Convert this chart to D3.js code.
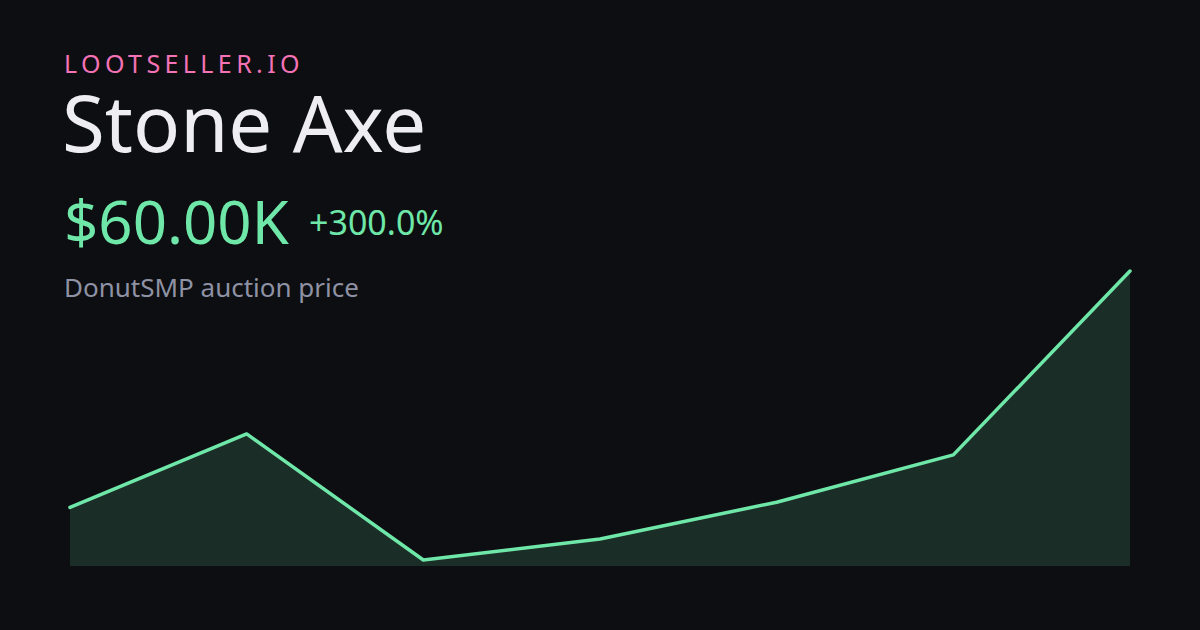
<!DOCTYPE html>
<html><head><meta charset="utf-8">
<script src="https://cdn.jsdelivr.net/npm/d3@7"></script>
<style>html,body{margin:0;padding:0;background:#0d0e11;}svg{display:block;}</style>
</head><body>
<svg id="c" width="1200" height="630"></svg>
<script>
const brand = "LOOTSELLER.IO";
const itemName = "Stone Axe";
const priceLabel = "$60.00K";
const changeLabel = "+300.0%";
const subtitle = "DonutSMP auction price";
const periods = [0, 1, 2, 3, 4, 5, 6];
const prices = [15000, 29000, 5000, 9000, 16000, 25000, 60000];

const svg = d3.select("#c");
const W = 1200, H = 630;
svg.append("rect").attr("width", W).attr("height", H).attr("fill", "#0d0e11");

const font = "'Noto Sans', 'Open Sans', sans-serif";
svg.append("text").attr("x", 64).attr("y", 73).text(brand)
  .attr("font-family", font).attr("font-size", 25).attr("letter-spacing", 4.4)
  .attr("fill", "#f472b6");
svg.append("text").attr("x", 62).attr("y", 152).text(itemName)
  .attr("font-family", font).attr("font-size", 78).attr("fill", "#eeeef2");
svg.append("text").attr("x", 64).attr("y", 244).text(priceLabel)
  .attr("font-family", font).attr("font-size", 60).attr("fill", "#6ee7a8");
svg.append("text").attr("x", 309).attr("y", 235).text(changeLabel)
  .attr("font-family", font).attr("font-size", 34).attr("fill", "#6ee7a8");
svg.append("text").attr("x", 64).attr("y", 297).text(subtitle)
  .attr("font-family", font).attr("font-size", 26).attr("fill", "#8e92a4");

const x = d3.scaleLinear().domain(d3.extent(periods)).range([70, 1130]);
const y = d3.scaleLinear().domain([d3.min(prices), d3.max(prices)]).range([560, 271]);
const bottom = 566;
const data = periods.map((p, i) => ({p, v: prices[i]}));

svg.append("path").datum(data)
  .attr("d", d3.area().x(d => x(d.p)).y0(bottom).y1(d => y(d.v)))
  .attr("fill", "#6ee7a8").attr("fill-opacity", 0.15);
svg.append("path").datum(data)
  .attr("d", d3.line().x(d => x(d.p)).y(d => y(d.v)))
  .attr("fill", "none").attr("stroke", "#6ee7a8").attr("stroke-width", 3.5)
  .attr("stroke-linejoin", "round").attr("stroke-linecap", "round");
</script>
</body></html>
